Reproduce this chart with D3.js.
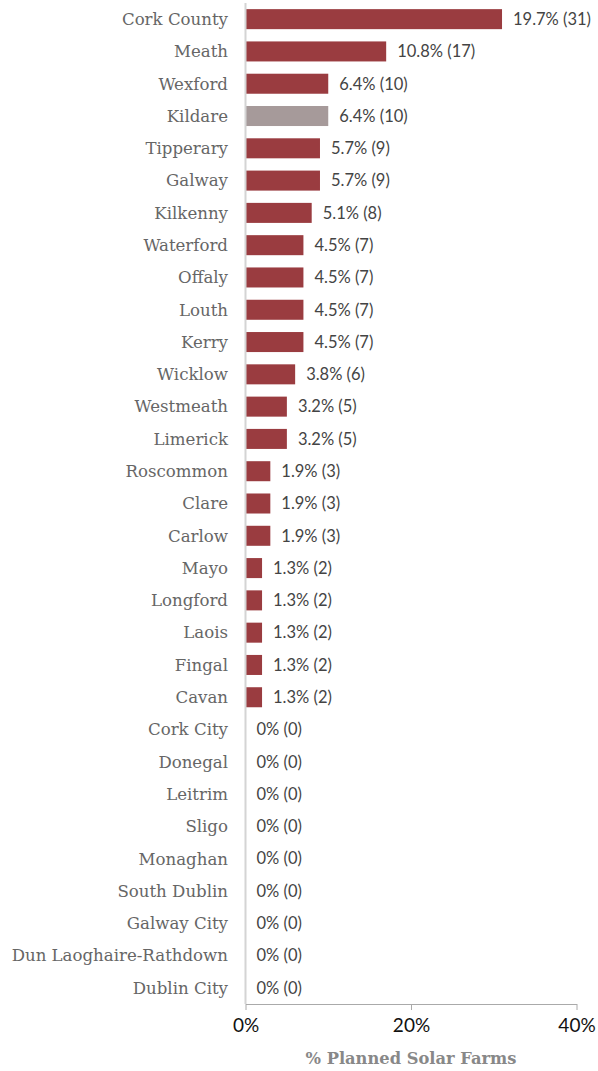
<!DOCTYPE html>
<html>
<head>
<meta charset="utf-8">
<script src="https://cdn.jsdelivr.net/npm/d3@7"></script>
<style>
  html, body { margin: 0; padding: 0; background: #fff; }
  svg { display: block; }
</style>
</head>
<body>
<svg id="chart" width="598" height="1071"></svg>
<script>
// Planned solar farms by county
const counties = [
  "Cork County", "Meath", "Wexford", "Kildare", "Tipperary", "Galway", "Kilkenny",
  "Waterford", "Offaly", "Louth", "Kerry", "Wicklow", "Westmeath", "Limerick",
  "Roscommon", "Clare", "Carlow", "Mayo", "Longford", "Laois", "Fingal", "Cavan",
  "Cork City", "Donegal", "Leitrim", "Sligo", "Monaghan", "South Dublin",
  "Galway City", "Dun Laoghaire-Rathdown", "Dublin City"
];
const farmCounts = [
  31, 17, 10, 10, 9, 9, 8,
  7, 7, 7, 7, 6, 5, 5,
  3, 3, 3, 2, 2, 2, 2, 2,
  0, 0, 0, 0, 0, 0,
  0, 0, 0
];
const farmShares = [
  "19.7%", "10.8%", "6.4%", "6.4%", "5.7%", "5.7%", "5.1%",
  "4.5%", "4.5%", "4.5%", "4.5%", "3.8%", "3.2%", "3.2%",
  "1.9%", "1.9%", "1.9%", "1.3%", "1.3%", "1.3%", "1.3%", "1.3%",
  "0%", "0%", "0%", "0%", "0%", "0%",
  "0%", "0%", "0%"
];
const highlighted = ["Kildare"];
const axisTicks = [0, 20, 40];
const axisTitle = "% Planned Solar Farms";

const rows = counties.map((c, i) => ({ county: c, count: farmCounts[i], share: farmShares[i] }));

const svg = d3.select("#chart");
const plotLeft = 245.5, plotRight = 576.5, plotTop = 3, plotBottom = 1004;

const x = d3.scaleLinear().domain([0, 40]).range([plotLeft, plotRight]);
const y = d3.scaleBand().domain(counties).range([plotTop, plotBottom])
  .paddingInner(0.38).paddingOuter(0.19);

// bars
svg.append("g").selectAll("rect").data(rows).join("rect")
  .attr("x", x(0) + 0.5)
  .attr("y", d => y(d.county))
  .attr("width", d => Math.max(0, x(d.count) - x(0) - 0.5))
  .attr("height", y.bandwidth())
  .attr("fill", d => highlighted.includes(d.county) ? "#a69a9a" : "#9a3c40");

// value labels
svg.append("g").selectAll("text").data(rows).join("text")
  .attr("x", d => x(d.count) + 11)
  .attr("y", d => y(d.county) + y.bandwidth() / 2)
  .attr("dy", "0.35em")
  .attr("font-family", "Lato, sans-serif")
  .attr("font-size", 16.5)
  .attr("fill", "#444")
  .text(d => `${d.share} (${d.count})`);

// category labels
svg.append("g").selectAll("text").data(rows).join("text")
  .attr("x", 228)
  .attr("y", d => y(d.county) + y.bandwidth() / 2)
  .attr("dy", "0.35em")
  .attr("text-anchor", "end")
  .attr("font-family", "'DejaVu Serif', serif")
  .attr("font-size", 16.6)
  .attr("fill", "#666")
  .text(d => d.county);

// vertical baseline
svg.append("line")
  .attr("x1", plotLeft).attr("x2", plotLeft)
  .attr("y1", plotTop).attr("y2", plotBottom)
  .attr("stroke", "#d4d4d4").attr("stroke-width", 2);

// bottom axis
const xAxis = d3.axisBottom(x).tickValues(axisTicks)
  .tickFormat(d => d + "%").tickSize(6).tickSizeOuter(0);
const ax = svg.append("g").attr("transform", `translate(0,${plotBottom})`).call(xAxis);
ax.select(".domain").attr("stroke", "#aaa");
ax.selectAll(".tick line").attr("stroke", "#aaa");
ax.selectAll(".tick text")
  .attr("y", 15)
  .attr("font-family", "Lato, sans-serif")
  .attr("font-size", 19)
  .attr("fill", "#111");

// axis title
svg.append("text")
  .attr("x", x(20))
  .attr("y", 1064)
  .attr("text-anchor", "middle")
  .attr("font-family", "'DejaVu Serif', serif")
  .attr("font-weight", "bold")
  .attr("font-size", 16.3)
  .attr("fill", "#888")
  .text(axisTitle);
</script>
</body>
</html>
